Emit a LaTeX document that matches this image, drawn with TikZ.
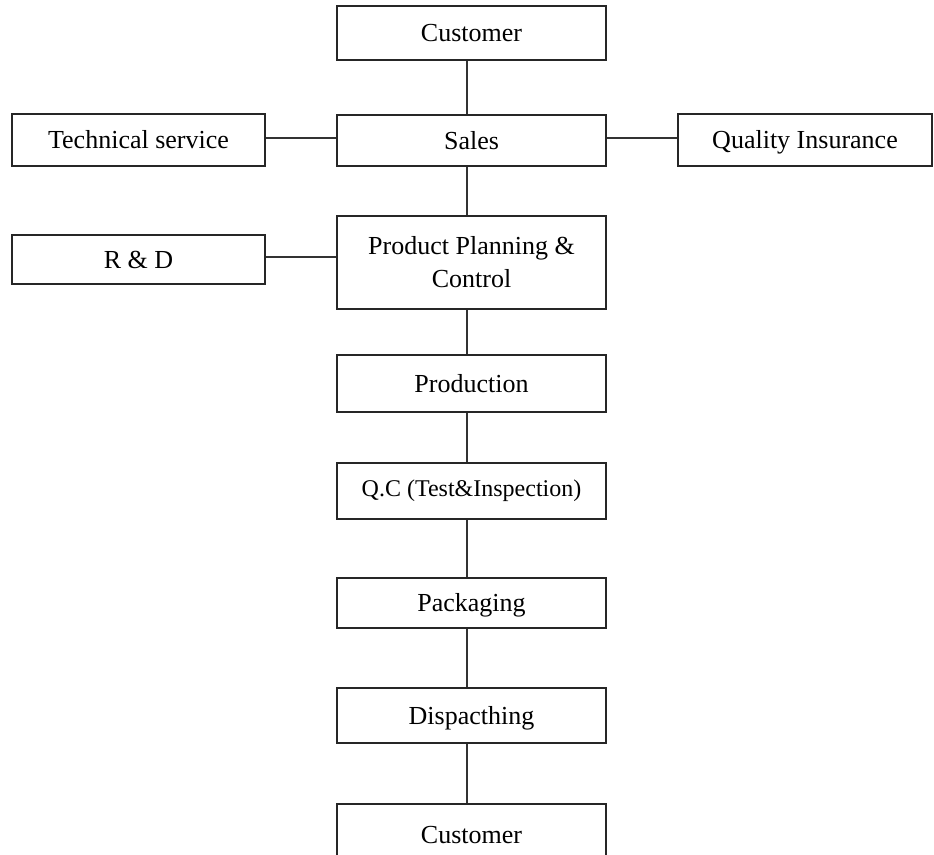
\documentclass[tikz,border=0pt]{standalone}
\usepackage{fontspec}
\setmainfont{Liberation Serif}
\begin{document}
\begin{tikzpicture}[x=1pt,y=-1pt,
  box/.style={draw=black!85, line width=1.7pt, inner sep=0pt, align=center,
    font=\fontsize{26}{33}\selectfont},
  one/.style={box, text height=17pt, text depth=0pt},
  link/.style={draw=black!80, line width=1.6pt}]
\useasboundingbox[fill=white] (0,0) rectangle (934,854);
\node[one, minimum width=269pt, minimum height=54pt] (cust1) at (471.5,33) {Customer};
\node[one, minimum width=269pt, minimum height=51pt] (sales) at (471.5,140.5) {Sales};
\node[one, minimum width=253pt, minimum height=52pt] (tech) at (138.5,140) {Technical service};
\node[one, minimum width=254pt, minimum height=52pt] (qi) at (805,140) {Quality Insurance};
\node[one, minimum width=253pt, minimum height=49pt] (rd) at (138.5,259.5) {R \& D};
\node[box, minimum width=269pt, minimum height=93pt] (ppc) at (471.5,262.5) {Product Planning \&\\Control};
\node[one, minimum width=269pt, minimum height=57pt] (prod) at (471.5,383.5) {Production};
\node[box, minimum width=269pt, minimum height=56pt, font=\fontsize{24}{30}\selectfont,
  text depth=12pt, text height=22pt] (qc) at (471.5,491) {Q.C (Test\&Inspection)};
\node[one, minimum width=269pt, minimum height=50pt] (pack) at (471.5,603) {Packaging};
\node[one, minimum width=269pt, minimum height=55pt] (disp) at (471.5,715.5) {Dispacthing};
\node[one, minimum width=269pt, minimum height=62pt] (cust2) at (471.5,835) {Customer};
\foreach \a/\b in {cust1/sales, sales/ppc, ppc/prod, prod/qc, qc/pack, pack/disp, disp/cust2}
  \draw[link] ([xshift=-4.5pt]\a.south) -- ([xshift=-4.5pt]\b.north);
\draw[link] ([yshift=2pt]tech.east) -- ([yshift=2pt]tech.east -| sales.west);
\draw[link] ([yshift=2.5pt]sales.east) -- ([yshift=2.5pt]sales.east -| qi.west);
\draw[link] ([yshift=2.5pt]rd.east) -- ([yshift=2.5pt]rd.east -| ppc.west);
\end{tikzpicture}
\end{document}
